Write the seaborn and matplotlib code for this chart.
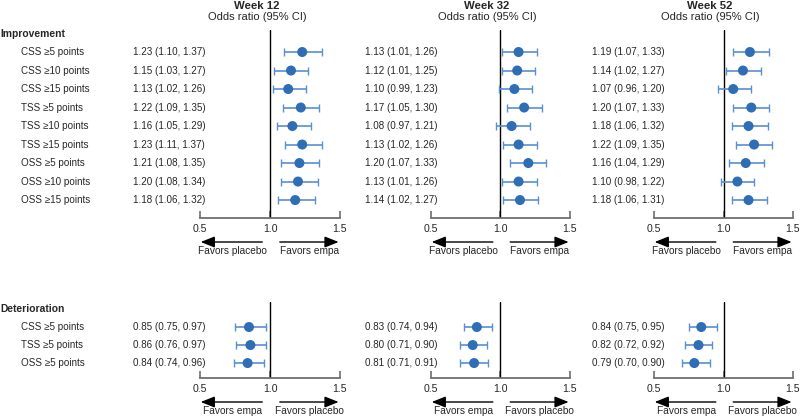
import matplotlib
matplotlib.use("Agg")
import matplotlib.pyplot as plt
import matplotlib.transforms as mtransforms
import seaborn as sns
import pandas as pd

# Data
weeks = ["Week 12", "Week 32", "Week 52"]

improvement_labels = [
    "CSS ≥5 points", "CSS ≥10 points", "CSS ≥15 points",
    "TSS ≥5 points", "TSS ≥10 points", "TSS ≥15 points",
    "OSS ≥5 points", "OSS ≥10 points", "OSS ≥15 points",
]
deterioration_labels = ["CSS ≥5 points", "TSS ≥5 points", "OSS ≥5 points"]

imp_or = {
    "Week 12": [1.23, 1.15, 1.13, 1.22, 1.16, 1.23, 1.21, 1.20, 1.18],
    "Week 32": [1.13, 1.12, 1.10, 1.17, 1.08, 1.13, 1.20, 1.13, 1.14],
    "Week 52": [1.19, 1.14, 1.07, 1.20, 1.18, 1.22, 1.16, 1.10, 1.18],
}
imp_lo = {
    "Week 12": [1.10, 1.03, 1.02, 1.09, 1.05, 1.11, 1.08, 1.08, 1.06],
    "Week 32": [1.01, 1.01, 0.99, 1.05, 0.97, 1.02, 1.07, 1.01, 1.02],
    "Week 52": [1.07, 1.02, 0.96, 1.07, 1.06, 1.09, 1.04, 0.98, 1.06],
}
imp_hi = {
    "Week 12": [1.37, 1.27, 1.26, 1.35, 1.29, 1.37, 1.35, 1.34, 1.32],
    "Week 32": [1.26, 1.25, 1.23, 1.30, 1.21, 1.26, 1.33, 1.26, 1.27],
    "Week 52": [1.33, 1.27, 1.20, 1.33, 1.32, 1.35, 1.29, 1.22, 1.31],
}
det_or = {
    "Week 12": [0.85, 0.86, 0.84],
    "Week 32": [0.83, 0.80, 0.81],
    "Week 52": [0.84, 0.82, 0.79],
}
det_lo = {
    "Week 12": [0.75, 0.76, 0.74],
    "Week 32": [0.74, 0.71, 0.71],
    "Week 52": [0.75, 0.72, 0.70],
}
det_hi = {
    "Week 12": [0.97, 0.97, 0.96],
    "Week 32": [0.94, 0.90, 0.91],
    "Week 52": [0.95, 0.92, 0.90],
}

x_ticks = [0.5, 1.0, 1.5]
x_tick_labels = ["0.5", "1.0", "1.5"]

# Styling
sns.set_theme(style="white")
plt.rcParams["font.family"] = ["Liberation Sans", "DejaVu Sans"]

DOT = "#2f6db5"
BAR = "#5a8fd3"
SPINE = "#6e6e6e"
FS = 7.1

fig = plt.figure(figsize=(8, 4.18), dpi=100)
H = 418.0

# axis left edges / right edges in px
col_px = [(200, 340), (431, 570), (654, 793)]
value_x_px = [133, 365, 592]
header_x_px = [257, 487, 710]


def px_ax(x0, x1, ytop, ybot):
    return fig.add_axes([x0 / 800, 1 - ybot / H, (x1 - x0) / 800, (ybot - ytop) / H])


def draw_section(ax, or_vals, lo, hi, ylim, left_txt, right_txt):
    df = pd.DataFrame({"row": range(len(or_vals)), "or": or_vals, "lo": lo, "hi": hi})
    ax.errorbar(df["or"], df["row"], xerr=[df["or"] - df["lo"], df["hi"] - df["or"]],
                fmt="none", ecolor=BAR, elinewidth=1.2, capsize=2.6, capthick=1.0, zorder=2)
    sns.scatterplot(data=df, x="or", y="row", ax=ax, color=DOT, s=52,
                    edgecolor="none", zorder=3, legend=False)
    ax.axvline(1.0, color="black", lw=1.0, zorder=1)
    ax.set_xlim(0.5, 1.5)
    ax.set_ylim(*ylim)
    ax.set_xlabel("")
    ax.set_ylabel("")
    ax.set_yticks([])
    ax.set_xticks(x_ticks)
    ax.set_xticklabels(x_tick_labels, fontsize=7.6)
    ax.tick_params(axis="x", direction="in", length=5, width=1.2, color=SPINE, pad=4,
                   bottom=True)
    for s in ["left", "right", "top"]:
        ax.spines[s].set_visible(False)
    ax.spines["bottom"].set_color(SPINE)
    ax.spines["bottom"].set_linewidth(1.3)
    ax.patch.set_alpha(0)

    base = mtransforms.blended_transform_factory(ax.transData, ax.transAxes)
    arr_tr = mtransforms.offset_copy(base, fig=fig, y=-24, units="dots")
    txt_tr = mtransforms.offset_copy(base, fig=fig, y=-33, units="dots")
    aprops = dict(arrowstyle="-|>,head_length=0.7,head_width=0.28", lw=1.0,
                  color="black", shrinkA=0, shrinkB=0)
    ax.annotate("", xy=(0.505, 0), xycoords=arr_tr, xytext=(0.945, 0),
                textcoords=arr_tr, arrowprops=aprops, annotation_clip=False)
    ax.annotate("", xy=(1.49, 0), xycoords=arr_tr, xytext=(1.07, 0),
                textcoords=arr_tr, arrowprops=aprops, annotation_clip=False)
    ax.text(0.735, 0, left_txt, transform=txt_tr, ha="center", va="center", fontsize=7.3)
    ax.text(1.28, 0, right_txt, transform=txt_tr, ha="center", va="center", fontsize=7.3)


for i, wk in enumerate(weeks):
    x0, x1 = col_px[i]
    ax_top = px_ax(x0, x1, 30, 218)
    draw_section(ax_top, imp_or[wk], imp_lo[wk], imp_hi[wk], (8.97, -1.19),
                 "Favors placebo", "Favors empa")
    ax_bot = px_ax(x0, x1, 302, 378)
    draw_section(ax_bot, det_or[wk], det_lo[wk], det_hi[wk], (2.83, -1.39),
                 "Favors empa", "Favors placebo")

    for ax, vals, lo, hi in [(ax_top, imp_or[wk], imp_lo[wk], imp_hi[wk]),
                             (ax_bot, det_or[wk], det_lo[wk], det_hi[wk])]:
        tr = mtransforms.blended_transform_factory(fig.transFigure, ax.transData)
        for r, (v, l, h) in enumerate(zip(vals, lo, hi)):
            ax.text(value_x_px[i] / 800, r, f"{v:.2f} ({l:.2f}, {h:.2f})",
                    transform=tr, ha="left", va="center", fontsize=FS)

    fig.text(header_x_px[i] / 800, 1 - 6 / H, wk, ha="center", va="center",
             fontsize=8.2, fontweight="bold")
    fig.text(header_x_px[i] / 800, 1 - 17.5 / H, "Odds ratio (95% CI)", ha="center",
             va="center", fontsize=8)

    if i == 0:
        for ax, labels, head in [(ax_top, improvement_labels, "Improvement"),
                                 (ax_bot, deterioration_labels, "Deterioration")]:
            tr = mtransforms.blended_transform_factory(fig.transFigure, ax.transData)
            ax.text(0.001, -1.0, head, transform=tr, ha="left", va="center",
                    fontsize=7.4, fontweight="bold")
            for r, lab in enumerate(labels):
                ax.text(21 / 800, r, lab, transform=tr, ha="left", va="center", fontsize=FS)

fig.savefig("out.png", dpi=100)
